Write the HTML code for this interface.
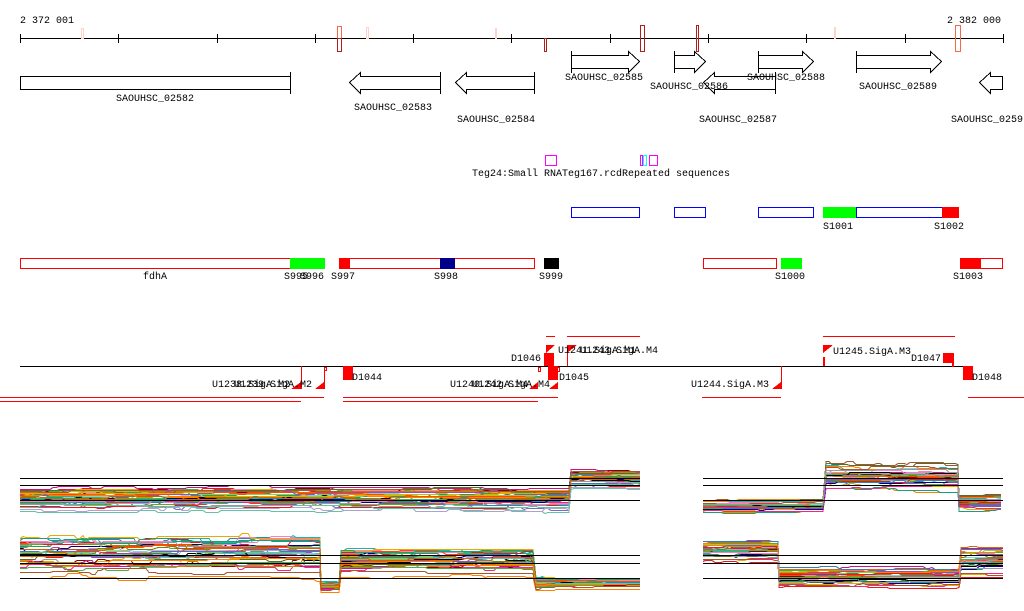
<!DOCTYPE html>
<html><head><meta charset="utf-8"><style>
html,body{margin:0;padding:0;background:#fff;width:1024px;height:611px;overflow:hidden}
svg{display:block}
text{font-family:"Liberation Mono",monospace;font-size:10px;fill:#000}
</style></head><body>
<svg id="s" width="1024" height="611" viewBox="0 0 1024 611" shape-rendering="crispEdges">
<text x="20" y="23">2 372 001</text>
<text x="1001" y="23" text-anchor="end">2 382 000</text>
<line x1="20" y1="38.5" x2="1004" y2="38.5" stroke="#000"/>
<g stroke="#000">
<line x1="20.5" y1="34" x2="20.5" y2="43"/><line x1="118.5" y1="34" x2="118.5" y2="43"/><line x1="217.5" y1="34" x2="217.5" y2="43"/><line x1="315.5" y1="34" x2="315.5" y2="43"/><line x1="413.5" y1="34" x2="413.5" y2="43"/><line x1="511.5" y1="34" x2="511.5" y2="43"/><line x1="610.5" y1="34" x2="610.5" y2="43"/><line x1="708.5" y1="34" x2="708.5" y2="43"/><line x1="806.5" y1="34" x2="806.5" y2="43"/><line x1="905.5" y1="34" x2="905.5" y2="43"/><line x1="1003.5" y1="34" x2="1003.5" y2="43"/>
</g>
<g fill="none">
<rect x="81.5" y="28.5" width="2" height="10" stroke="#fcd5c8"/>
<rect x="337.5" y="26.5" width="4" height="12" stroke="#f4694b"/>
<rect x="337.5" y="38.5" width="4" height="13" stroke="#b21d1d"/>
<rect x="366.5" y="27.5" width="2" height="11" stroke="#fcd5c8"/>
<rect x="495.5" y="28.5" width="1" height="10" stroke="#fcd5c8"/>
<rect x="544.5" y="38.5" width="2" height="13" stroke="#b21d1d"/>
<rect x="640.5" y="25.5" width="4" height="26" stroke="#b21d1d"/>
<rect x="696.5" y="25.5" width="2" height="26" stroke="#b21d1d"/>
<rect x="834.5" y="27.5" width="1" height="11" stroke="#fcd5c8"/>
<rect x="955.5" y="25.5" width="5" height="26" stroke="#f4694b"/>
</g>
<g fill="none" stroke="#000">
<rect x="20.5" y="76.5" width="270" height="13"/><line x1="290.5" y1="72" x2="290.5" y2="94"/>
<polygon points="440.5,76.5 360.5,76.5 360.5,72.5 349.5,82.5 360.5,93.5 360.5,89.5 440.5,89.5"/><line x1="440.5" y1="72" x2="440.5" y2="94"/>
<polygon points="534.5,76.5 466.5,76.5 466.5,72.5 455.5,82.5 466.5,93.5 466.5,89.5 534.5,89.5"/><line x1="534.5" y1="72" x2="534.5" y2="94"/>
<polygon points="571.5,55.5 628.5,55.5 628.5,51.5 639.5,61.5 628.5,72.5 628.5,68.5 571.5,68.5"/><line x1="571.5" y1="51" x2="571.5" y2="73"/>
<polygon points="674.5,55.5 694.5,55.5 694.5,51.5 705.5,61.5 694.5,72.5 694.5,68.5 674.5,68.5"/><line x1="674.5" y1="51" x2="674.5" y2="73"/>
<polygon points="775.5,76.5 714.5,76.5 714.5,72.5 703.5,82.5 714.5,93.5 714.5,89.5 775.5,89.5"/><line x1="775.5" y1="72" x2="775.5" y2="94"/>
<polygon points="758.5,55.5 802.5,55.5 802.5,51.5 813.5,61.5 802.5,72.5 802.5,68.5 758.5,68.5"/><line x1="758.5" y1="51" x2="758.5" y2="73"/>
<polygon points="856.5,55.5 930.5,55.5 930.5,51.5 941.5,61.5 930.5,72.5 930.5,68.5 856.5,68.5"/><line x1="856.5" y1="51" x2="856.5" y2="73"/>
<polygon points="1002.5,76.5 990.5,76.5 990.5,72.5 979.5,82.5 990.5,93.5 990.5,89.5 1002.5,89.5"/><line x1="1002.5" y1="76" x2="1002.5" y2="90"/>
</g>
<g text-anchor="middle">
<text x="155" y="101">SAOUHSC_02582</text>
<text x="393" y="110">SAOUHSC_02583</text>
<text x="496" y="122">SAOUHSC_02584</text>
<text x="604" y="80">SAOUHSC_02585</text>
<text x="689" y="89">SAOUHSC_02586</text>
<text x="738" y="122">SAOUHSC_02587</text>
<text x="786" y="80">SAOUHSC_02588</text>
<text x="898" y="89">SAOUHSC_02589</text>
</g>
<text x="951" y="122">SAOUHSC_0259</text>
<g fill="none" stroke="#f0f">
<rect x="545.5" y="155.5" width="11" height="10"/>
<rect x="649.5" y="155.5" width="8" height="10"/>
<rect x="640.5" y="155.5" width="2" height="10"/>
</g>
<rect x="643.5" y="155.5" width="3" height="10" fill="none" stroke="#0ff"/>
<text x="472" y="176">Teg24:Small RNA</text>
<text x="562" y="176">Teg167.rcd</text>
<text x="622" y="176">Repeated sequences</text>
<g fill="none" stroke="#00f">
<rect x="571.5" y="207.5" width="68" height="10"/>
<rect x="674.5" y="207.5" width="31" height="10"/>
<rect x="758.5" y="207.5" width="55" height="10"/>
<rect x="856.5" y="207.5" width="86" height="10"/>
</g>
<rect x="823" y="207" width="33" height="11" fill="#0f0"/>
<rect x="942" y="207" width="17" height="11" fill="#f00"/>
<text x="823" y="229">S1001</text><text x="934" y="229">S1002</text>
<g fill="none" stroke="#f00">
<rect x="20.5" y="258.5" width="270" height="10"/>
<rect x="339.5" y="258.5" width="195" height="10"/>
<rect x="703.5" y="258.5" width="73" height="10"/>
<rect x="980.5" y="258.5" width="22" height="10"/>
</g>
<rect x="290" y="258" width="35" height="11" fill="#0f0"/>
<rect x="339" y="258" width="11" height="11" fill="#f00"/>
<rect x="440" y="258" width="15" height="11" fill="#00008b"/>
<rect x="544" y="258" width="15" height="11" fill="#000"/>
<rect x="781" y="258" width="21" height="11" fill="#0f0"/>
<rect x="960" y="258" width="21" height="11" fill="#f00"/>
<text x="155" y="279" text-anchor="middle">fdhA</text>
<text x="284" y="279">S995</text><text x="300" y="279">S996</text>
<text x="331" y="279">S997</text><text x="434" y="279">S998</text><text x="539" y="279">S999</text>
<text x="775" y="279">S1000</text><text x="953" y="279">S1003</text>
<line x1="20" y1="366.5" x2="970" y2="366.5" stroke="#000"/>
<g stroke="#f00" fill="none">
<line x1="0" y1="397.5" x2="324" y2="397.5"/><line x1="0" y1="401.5" x2="301" y2="401.5"/>
<line x1="343" y1="397.5" x2="558" y2="397.5"/><line x1="343" y1="401.5" x2="538" y2="401.5"/>
<line x1="702" y1="397.5" x2="781" y2="397.5"/><line x1="968" y1="397.5" x2="1024" y2="397.5"/>
<line x1="546" y1="336.5" x2="555" y2="336.5"/><line x1="567" y1="336.5" x2="640" y2="336.5"/>
<line x1="823" y1="336.5" x2="955" y2="336.5"/>
<line x1="301.5" y1="366" x2="301.5" y2="389"/><line x1="324.5" y1="370" x2="324.5" y2="389"/>
<rect x="324.5" y="367.5" width="2" height="3"/>
<rect x="538.5" y="367.5" width="2" height="4"/><rect x="549.5" y="367.5" width="2" height="4"/><rect x="557.5" y="367.5" width="2" height="4"/>
<line x1="567.5" y1="345" x2="567.5" y2="366"/>
<line x1="781.5" y1="366" x2="781.5" y2="389"/>
<rect x="823.5" y="357.5" width="1" height="8"/>
<rect x="952.5" y="363.5" width="1" height="3"/>
</g>
<g fill="#f00">
<polygon points="291,389 301,382 301,389"/><polygon points="315,389 324,382 324,389"/>
<rect x="343" y="366" width="10" height="14"/>
<polygon points="529,389 538,382 538,389"/><polygon points="549,389 558,382 558,389"/>
<rect x="548" y="366" width="10" height="14"/><rect x="544" y="353" width="10" height="13"/>
<polygon points="546,345 555,345 546,353"/><polygon points="567,345 577,345 567,353"/>
<polygon points="772,389 781,382 781,389"/>
<polygon points="823,345 833,345 823,353"/>
<rect x="943" y="353" width="11" height="10"/>
<rect x="963" y="366" width="10" height="14"/>
</g>
<text x="212" y="387">U1238.SigA.M2</text><text x="234" y="387">U1239.SigA.M2</text>
<text x="352" y="380">D1044</text>
<text x="450" y="387">U1240.SigA.M4</text><text x="472" y="387">U1242.SigA.M4</text>
<text x="511" y="361">D1046</text>
<text x="558" y="353">U1241.SigA.M1</text><text x="580" y="353">U1243.SigA.M4</text>
<text x="559" y="380">D1045</text>
<text x="691" y="387">U1244.SigA.M3</text>
<text x="833" y="354">U1245.SigA.M3</text>
<text x="911" y="361">D1047</text>
<text x="972" y="380">D1048</text>
<g id="charts" fill="none" stroke-width="1"></g>
<g stroke="#000" stroke-width="1.2">
<line x1="20" y1="478.5" x2="640" y2="478.5"/><line x1="20" y1="485.5" x2="640" y2="485.5"/><line x1="20" y1="500.5" x2="640" y2="500.5"/>
<line x1="20" y1="555.5" x2="640" y2="555.5"/><line x1="20" y1="563.5" x2="640" y2="563.5"/><line x1="20" y1="578.5" x2="640" y2="578.5"/>
<line x1="703" y1="478.5" x2="1003" y2="478.5"/><line x1="703" y1="485.5" x2="1003" y2="485.5"/><line x1="703" y1="500.5" x2="1003" y2="500.5"/>
<line x1="703" y1="555.5" x2="1003" y2="555.5"/><line x1="703" y1="563.5" x2="1003" y2="563.5"/><line x1="703" y1="578.5" x2="1003" y2="578.5"/>
</g>
</svg>
<script>
var seed=11;function r(){seed=(seed*16807)%2147483647;return seed/2147483647;}
var cols=["#e41a1c","#377eb8","#4daf4a","#984ea3","#ff7f00","#a65628","#f781bf","#999","#66c2a5","#e6ab02","#1b9e77","#d95f02","#7570b3","#e7298a","#66a61e","#8b0000","#00008b","#c71585","#9acd32","#b8860b","#87ceeb","#b0a0d0","#d2691e","#556b2f","#ff4500","#20b2aa","#808000","#000"];
var g=document.getElementById("charts");
function chart(segs,n){
 for(var i=0;i<n;i++){
  var pts=[],q=(r()+r()+r())/3, off=0;
  for(var s=0;s<segs.length;s++){var S=segs[s];
   for(var x=S[0];x<=S[1];x+=3){
    if(r()<0.12){off=off*0.6+(r()-0.5)*0.12;}
    var v=Math.min(1,Math.max(0,q+off));
    var y=Math.round(S[2]+(S[3]-S[2])*v)+0.5;
    pts.push(x+","+y);}
  }
  var p=document.createElementNS("http://www.w3.org/2000/svg","polyline");
  p.setAttribute("points",pts.join(" "));p.setAttribute("stroke",cols[i%cols.length]);g.appendChild(p);
 }
}
chart([[20,570,480,516],[571,640,463,492]],40);
chart([[20,320,522,585],[321,340,578,593],[341,535,540,580],[536,555,572,592],[556,640,575,590]],40);
chart([[703,825,496,514],[826,958,456,494],[959,1003,490,512]],36);
chart([[703,778,536,566],[779,960,564,590],[961,1003,540,582]],36);
</script>
</body></html>
